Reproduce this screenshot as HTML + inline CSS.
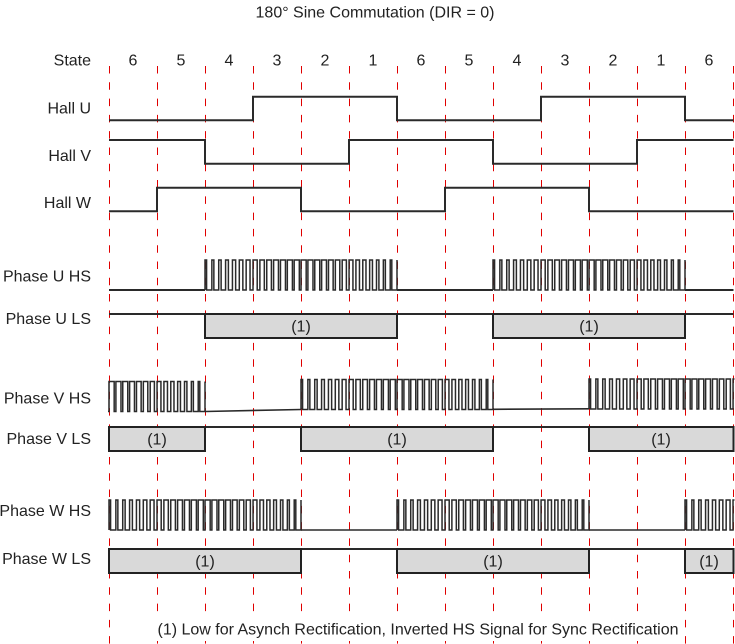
<!DOCTYPE html>
<html>
<head>
<meta charset="utf-8">
<style>
  html,body{margin:0;padding:0;background:#fff;}
  svg{display:block;}
  text{font-family:"Liberation Sans",Arial,sans-serif;font-size:16px;fill:#222;}
</style>
</head>
<body>
<svg width="735" height="644" viewBox="0 0 735 644" xmlns="http://www.w3.org/2000/svg">
  <defs>
    <path id="pwm" d="M0 0 v-30h1.58v30h5.28 v-30h2v30h4.86 v-30h2.41v30h4.45 v-30h2.81v30h4.05 v-30h3.2v30h3.66 v-30h3.55v30h3.31 v-30h3.88v30h2.98 v-30h4.18v30h2.68 v-30h4.45v30h2.41 v-30h4.67v30h2.19 v-30h4.85v30h2.01 v-30h5v30h1.86 v-30h5.09v30h1.77 v-30h5.14v30h1.72 v-30h5.14v30h1.72 v-30h5.09v30h1.77 v-30h5v30h1.86 v-30h4.85v30h2.01 v-30h4.67v30h2.19 v-30h4.45v30h2.41 v-30h4.18v30h2.68 v-30h3.88v30h2.98 v-30h3.55v30h3.31 v-30h3.2v30h3.66 v-30h2.81v30h4.05 v-30h2.41v30h4.45 v-30h2v30h4.86 v-30h1.58v30h5.2 v-30v30" fill="none" stroke="#2a2a2a" stroke-width="1.5"/>
    <clipPath id="cV1" clipPathUnits="userSpaceOnUse"><rect x="108" y="0" width="98" height="644"/></clipPath>
    <clipPath id="cR" clipPathUnits="userSpaceOnUse"><rect x="0" y="0" width="734.5" height="644"/></clipPath>
  </defs>

  <!-- Title -->
  <text x="375" y="17.3" text-anchor="middle">180° Sine Commutation (DIR = 0)</text>

  <!-- dashed red grid -->
  <g stroke="#e00000" stroke-width="1" stroke-dasharray="7.5 8.79">
    <line x1="109.5" y1="66" x2="109.5" y2="644"/>
    <line x1="157.5" y1="66" x2="157.5" y2="644"/>
    <line x1="205.5" y1="66" x2="205.5" y2="644"/>
    <line x1="253.5" y1="66" x2="253.5" y2="644"/>
    <line x1="301.5" y1="66" x2="301.5" y2="644"/>
    <line x1="349.5" y1="66" x2="349.5" y2="644"/>
    <line x1="397.5" y1="66" x2="397.5" y2="644"/>
    <line x1="445.5" y1="66" x2="445.5" y2="644"/>
    <line x1="493.5" y1="66" x2="493.5" y2="644"/>
    <line x1="541.5" y1="66" x2="541.5" y2="644"/>
    <line x1="589.5" y1="66" x2="589.5" y2="644"/>
    <line x1="637.5" y1="66" x2="637.5" y2="644"/>
    <line x1="685.5" y1="66" x2="685.5" y2="644"/>
    <line x1="733.5" y1="66" x2="733.5" y2="644"/>
  </g>

  <!-- State row -->
  <text x="91" y="65.7" text-anchor="end">State</text>
  <g text-anchor="middle">
    <text x="133" y="65.7">6</text>
    <text x="181" y="65.7">5</text>
    <text x="229" y="65.7">4</text>
    <text x="277" y="65.7">3</text>
    <text x="325" y="65.7">2</text>
    <text x="373" y="65.7">1</text>
    <text x="421" y="65.7">6</text>
    <text x="469" y="65.7">5</text>
    <text x="517" y="65.7">4</text>
    <text x="565" y="65.7">3</text>
    <text x="613" y="65.7">2</text>
    <text x="661" y="65.7">1</text>
    <text x="709" y="65.7">6</text>
  </g>

  <!-- Labels -->
  <g text-anchor="end">
    <text x="91" y="113.4">Hall U</text>
    <text x="91" y="160.8">Hall V</text>
    <text x="91" y="208">Hall W</text>
    <text x="91" y="281.7">Phase U HS</text>
    <text x="91" y="324">Phase U LS</text>
    <text x="91" y="403.3">Phase V HS</text>
    <text x="91" y="444">Phase V LS</text>
    <text x="91" y="516">Phase W HS</text>
    <text x="91" y="564">Phase W LS</text>
  </g>

  <!-- Hall signals -->
  <g fill="none" stroke="#2a2a2a" stroke-width="2">
    <path d="M109 120.3 H253 V96.7 H397 V120.3 H541 V96.7 H685 V120.3 H733.5"/>
    <path d="M109 140 H205 V163.7 H349 V140 H493 V163.7 H637 V140 H733.5"/>
    <path d="M109 211.3 H157 V187.7 H301 V211.3 H445 V187.7 H589 V211.3 H733.5"/>
  </g>

  <!-- Phase U HS -->
  <g fill="none" stroke="#2a2a2a" stroke-width="2">
    <path d="M109 290 H205"/>
    <path d="M397 290 H493"/>
    <path d="M685 290 H733.5"/>
  </g>
  <use href="#pwm" x="205" y="290"/>
  <use href="#pwm" x="493" y="290"/>

  <!-- Phase U LS -->
  <g fill="none" stroke="#2a2a2a" stroke-width="2">
    <path d="M109 314 H205"/>
    <path d="M397 314 H493"/>
    <path d="M685 314 H733.5"/>
  </g>
  <g fill="#d9d9d9" stroke="#222" stroke-width="2">
    <rect x="205" y="314" width="192" height="24"/>
    <rect x="493" y="314" width="192" height="24"/>
  </g>
  <g text-anchor="middle">
    <text x="301" y="331.5">(1)</text>
    <text x="589" y="331.5">(1)</text>
  </g>

  <!-- Phase V HS -->
  <g clip-path="url(#cV1)"><use href="#pwm" x="13" y="411.5"/></g>
  <g fill="none" stroke="#2a2a2a" stroke-width="1.6">
    <path d="M205 411.5 L301 409.5"/>
    <path d="M493 409.3 L589 408.8"/>
  </g>
  <use href="#pwm" x="301" y="409.5"/>
  <g clip-path="url(#cR)"><use href="#pwm" x="589" y="409"/></g>

  <!-- Phase V LS -->
  <g fill="none" stroke="#2a2a2a" stroke-width="2">
    <path d="M205 427 H301"/>
    <path d="M493 427 H589"/>
  </g>
  <g fill="#d9d9d9" stroke="#222" stroke-width="2">
    <rect x="109" y="427" width="96" height="24"/>
    <rect x="301" y="427" width="192" height="24"/>
    <rect x="589" y="427" width="144.5" height="24"/>
  </g>
  <g text-anchor="middle">
    <text x="157" y="444.5">(1)</text>
    <text x="397" y="444.5">(1)</text>
    <text x="661" y="444.5">(1)</text>
  </g>

  <!-- Phase W HS -->
  <use href="#pwm" x="109" y="530"/>
  <g fill="none" stroke="#2a2a2a" stroke-width="1.6">
    <path d="M301 530 H397"/>
    <path d="M589 530 H685"/>
  </g>
  <use href="#pwm" x="397" y="530"/>
  <g clip-path="url(#cR)"><use href="#pwm" x="685" y="530"/></g>

  <!-- Phase W LS -->
  <g fill="none" stroke="#2a2a2a" stroke-width="2">
    <path d="M301 549 H397"/>
    <path d="M589 549 H685"/>
  </g>
  <g fill="#d9d9d9" stroke="#222" stroke-width="2">
    <rect x="109" y="549" width="192" height="24"/>
    <rect x="397" y="549" width="192" height="24"/>
    <rect x="685" y="549" width="48.5" height="24"/>
  </g>
  <g text-anchor="middle">
    <text x="205" y="566.5">(1)</text>
    <text x="493" y="566.5">(1)</text>
    <text x="709" y="566.5">(1)</text>
  </g>

  <!-- Footnote -->
  <rect x="150" y="613" width="534" height="28" fill="#fff"/>
  <text x="157.5" y="634.5" textLength="521" lengthAdjust="spacingAndGlyphs">(1) Low for Asynch Rectification, Inverted HS Signal for Sync Rectification</text>
</svg>
</body>
</html>
